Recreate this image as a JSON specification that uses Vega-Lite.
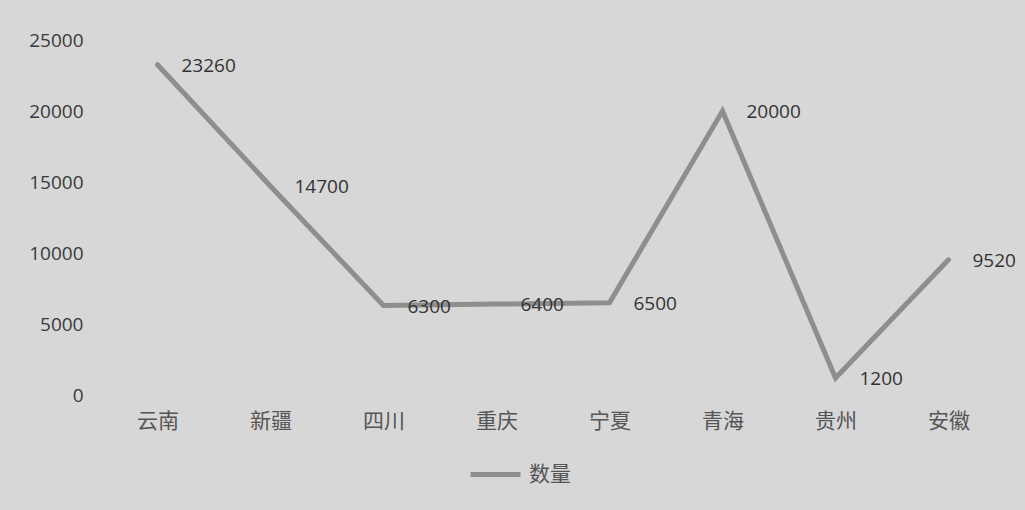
{
  "$schema": "https://vega.github.io/schema/vega-lite/v6.json",
  "autosize": {"type": "none"},
  "width": 904,
  "height": 355,
  "padding": {"left": 101, "top": 40, "right": 20, "bottom": 115},
  "background": "#d7d7d7",
  "config": {
    "view": {"stroke": null},
    "axis": {"grid": false, "domain": false, "ticks": false}
  },
  "data": {
    "values": [
      {"省份": "云南", "数量": 23260},
      {"省份": "新疆", "数量": 14700},
      {"省份": "四川", "数量": 6300},
      {"省份": "重庆", "数量": 6400},
      {"省份": "宁夏", "数量": 6500},
      {"省份": "青海", "数量": 20000},
      {"省份": "贵州", "数量": 1200},
      {"省份": "安徽", "数量": 9520}
    ]
  },
  "encoding": {
    "x": {
      "field": "省份",
      "type": "nominal",
      "sort": null,
      "scale": {"type": "point", "padding": 0.5},
      "axis": {
        "title": null,
        "labelAngle": 0,
        "labelFont": "Noto Sans CJK SC",
        "labelFontSize": 21,
        "labelColor": "#555555",
        "labelPadding": 15
      }
    },
    "y": {
      "field": "数量",
      "type": "quantitative",
      "scale": {"domain": [0, 25000]},
      "axis": {
        "title": null,
        "values": [0, 5000, 10000, 15000, 20000, 25000],
        "format": "d",
        "labelFont": "Open Sans",
        "labelFontSize": 19,
        "labelColor": "#3a3a3a",
        "labelPadding": 18
      }
    }
  },
  "layer": [
    {
      "mark": {"type": "line", "strokeWidth": 5, "strokeCap": "round"},
      "encoding": {
        "color": {
          "datum": "数量",
          "scale": {"range": ["#8e8e8e"]},
          "legend": {
            "title": null,
            "orient": "none",
            "legendX": 367,
            "legendY": 407,
            "symbolType": "stroke",
            "symbolSize": 2500,
            "symbolStrokeWidth": 5,
            "labelFont": "Noto Sans CJK SC",
            "labelFontSize": 21,
            "labelColor": "#555555",
            "labelOffset": 6
          }
        }
      }
    },
    {
      "mark": {
        "type": "text",
        "align": "left",
        "baseline": "middle",
        "dx": 24,
        "dy": 1,
        "font": "Open Sans",
        "fontSize": 19,
        "color": "#333333"
      },
      "encoding": {"text": {"field": "数量", "type": "quantitative", "format": "d"}}
    }
  ]
}
